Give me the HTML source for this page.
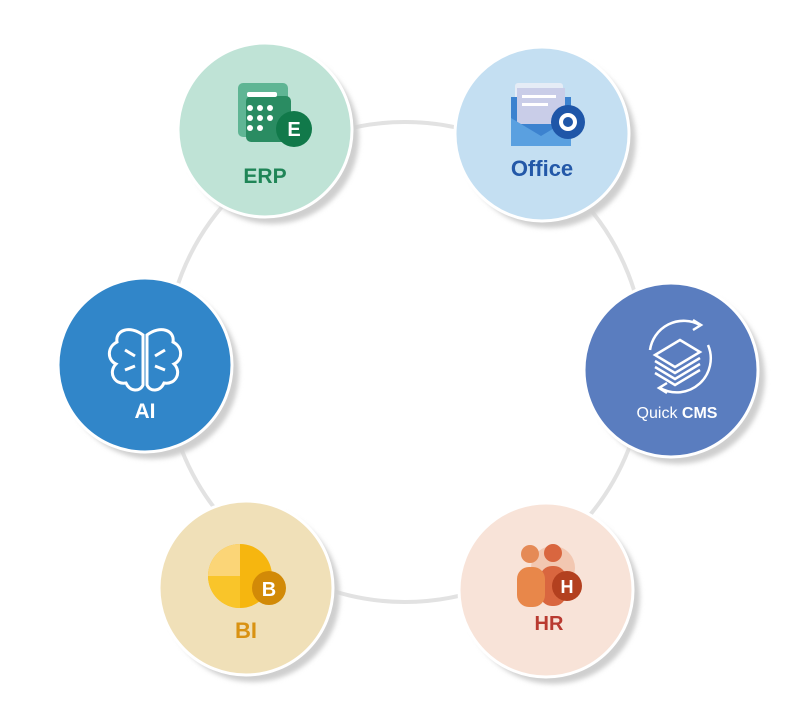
<!DOCTYPE html>
<html><head><meta charset="utf-8"><style>
html,body{margin:0;padding:0;background:#fff}
svg{display:block}
text{font-family:"Liberation Sans",sans-serif;font-weight:bold;text-anchor:middle}
</style></head><body>
<svg width="805" height="722" viewBox="0 0 805 722" xmlns="http://www.w3.org/2000/svg">
<defs>
<filter id="sh" x="-20%" y="-20%" width="150%" height="150%"><feGaussianBlur stdDeviation="2.5"/></filter>
</defs>
<circle cx="405" cy="362" r="240" fill="none" stroke="#e2e2e2" stroke-width="4"/>

<g fill="#cfcfcf" filter="url(#sh)">
<circle cx="272" cy="137" r="87"/><circle cx="549" cy="141" r="87"/>
<circle cx="152" cy="372" r="87"/><circle cx="678" cy="377" r="87"/>
<circle cx="253" cy="595" r="87"/><circle cx="553" cy="597" r="87"/>
</g>
<g stroke="#fff" stroke-width="3">
<circle cx="265" cy="130" r="87" fill="#bfe3d6"/>
<circle cx="542" cy="134" r="87" fill="#c4dff2"/>
<circle cx="145" cy="365" r="87" fill="#3186c9"/>
<circle cx="671" cy="370" r="87" fill="#5a7dbf"/>
<circle cx="246" cy="588" r="87" fill="#f0e0b8"/>
<circle cx="546" cy="590" r="87" fill="#f8e3d8"/>
</g>

<rect x="238" y="83" width="50" height="54" rx="5" fill="#5fb594"/>
<rect x="246" y="96" width="45" height="46" rx="5" fill="#2a8c62"/>
<rect x="247" y="92" width="30" height="5" rx="2" fill="#fff"/>
<g fill="#fff"><circle cx="250" cy="108" r="3"/><circle cx="260" cy="108" r="3"/><circle cx="270" cy="108" r="3"/>
<circle cx="250" cy="118" r="3"/><circle cx="260" cy="118" r="3"/><circle cx="270" cy="118" r="3"/>
<circle cx="250" cy="128" r="3"/><circle cx="260" cy="128" r="3"/></g>
<circle cx="294" cy="129" r="18" fill="#11794a"/>
<text x="294" y="136" font-size="20" fill="#fff">E</text>
<text x="265" y="183" font-size="21" fill="#1f8557">ERP</text>

<rect x="515" y="83" width="48" height="18" rx="3" fill="#e5ecf6"/>
<path d="M511 97 L571 97 L571 146 L511 146 Z" fill="#3c82cf"/>
<rect x="517" y="88" width="48" height="36" fill="#c9cde8"/>
<rect x="522" y="95" width="34" height="3" fill="#fff"/><rect x="522" y="103" width="26" height="3" fill="#fff"/>
<path d="M511 118 L541 136 L571 118 L571 146 L511 146 Z" fill="#5aa0e0"/>
<circle cx="568" cy="122" r="17" fill="#1f56a8"/>
<circle cx="568" cy="122" r="7" fill="none" stroke="#fff" stroke-width="4"/>
<text x="542" y="176" font-size="22" fill="#2358a8">Office</text>

<g fill="none" stroke="#fff" stroke-width="3">
<path d="M143 335 C130 325 115 330 117 342 C107 347 107 360 116 364 C108 372 114 385 126 383 C130 392 140 392 143 385 Z"/>
<path d="M147 335 C160 325 175 330 173 342 C183 347 183 360 174 364 C182 372 176 385 164 383 C160 392 150 392 147 385 Z"/>
<path d="M125 350 L135 356 M165 350 L155 356 M125 370 L135 366 M165 370 L155 366"/>
</g>
<text x="145" y="418" font-size="21" fill="#fff">AI</text>

<g fill="none" stroke="#fff" stroke-width="2.5">
<path d="M650 350 A34 34 0 0 1 700 325"/><path d="M693 320 L701 325 L693 330"/>
<path d="M708 345 A34 34 0 0 1 660 388"/><path d="M667 383 L659 388 L667 393"/>
<path d="M655 355 L680 340 L700 352 L675 367 Z" fill="#5a7dbf"/>
<path d="M655 361 L675 373 L700 358 M655 367 L675 379 L700 364 M655 373 L675 385 L700 370"/>
</g>
<text x="677" y="418" font-size="16" fill="#fff"><tspan font-weight="normal">Quick </tspan>CMS</text>

<circle cx="240" cy="576" r="32" fill="#f6b60f"/>
<path d="M240 576 L240 544 A32 32 0 0 0 208 576 Z" fill="#fbd577"/>
<path d="M240 576 L208 576 A32 32 0 0 0 240 608 Z" fill="#f9c52a"/>
<circle cx="269" cy="588" r="17" fill="#d28a07"/>
<text x="269" y="596" font-size="20" fill="#fff">B</text>
<text x="246" y="638" font-size="22" fill="#d99212">BI</text>

<circle cx="553" cy="568" r="22" fill="#f2c7b1"/>
<circle cx="530" cy="554" r="9" fill="#e58a56"/>
<circle cx="553" cy="553" r="9" fill="#d9663f"/>
<rect x="540" y="566" width="26" height="40" rx="12" fill="#d9663f"/>
<rect x="517" y="567" width="28" height="40" rx="12" fill="#e8874a"/>
<circle cx="567" cy="586" r="15" fill="#b3401f"/>
<text x="567" y="593" font-size="18" fill="#fff">H</text>
<text x="549" y="630" font-size="20" fill="#b93a30">HR</text>
</svg>
</body></html>
